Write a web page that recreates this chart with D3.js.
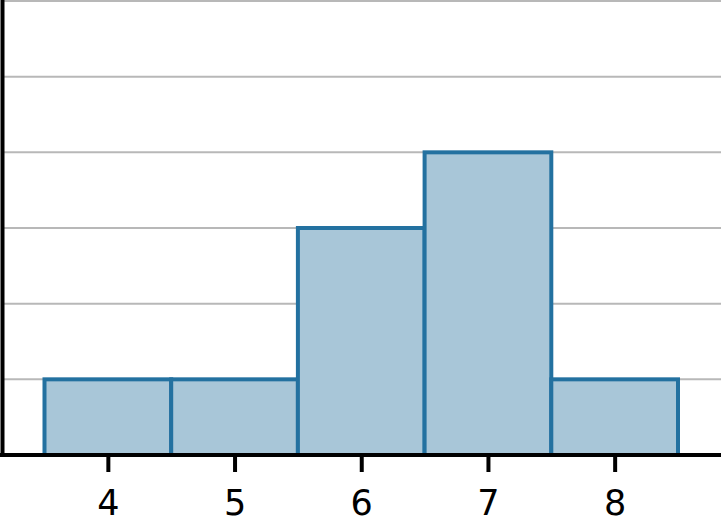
<!DOCTYPE html>
<html>
<head>
<meta charset="utf-8">
<script src="https://cdn.jsdelivr.net/npm/d3@7"></script>
<style>
  body { margin: 0; background: #fff; }
  svg { display: block; }
</style>
</head>
<body>
<svg></svg>
<script>
// histogram bins (centre value) and counts
const binValues = [4, 5, 6, 7, 8];
const binCounts = [1, 1, 3, 4, 1];
const yGridValues = [1, 2, 3, 4, 5, 6];
const xTickValues = [4, 5, 6, 7, 8];

const width = 721;
const height = 530;
const axisY = 455;
const axisX = 2.5;

const svg = d3.select("svg")
  .attr("width", width)
  .attr("height", height);

const scaleX = d3.scaleLinear()
  .domain([3.5, 8.5])
  .range([44.5, 678]);

const scaleY = d3.scaleLinear()
  .domain([0, 6])
  .range([axisY, 1]);

// horizontal grid lines
svg.append("g")
  .selectAll("line")
  .data(yGridValues)
  .enter()
  .append("line")
  .attr("x1", axisX)
  .attr("x2", width)
  .attr("y1", d => scaleY(d))
  .attr("y2", d => scaleY(d))
  .attr("stroke", "#b8b8b8")
  .attr("stroke-width", 2);

const bins = binValues.map((v, i) => ({ x: v, count: binCounts[i] }));

// bars
svg.append("g")
  .selectAll("rect")
  .data(bins)
  .enter()
  .append("rect")
  .attr("x", d => scaleX(d.x - 0.5))
  .attr("width", d => scaleX(d.x + 0.5) - scaleX(d.x - 0.5))
  .attr("y", d => scaleY(d.count))
  .attr("height", d => axisY - scaleY(d.count))
  .attr("fill", "#a8c6d8")
  .attr("stroke", "#2371a0")
  .attr("stroke-width", 4);

// x axis
const xAxis = d3.axisBottom(scaleX)
  .tickValues(xTickValues)
  .tickSize(17)
  .tickPadding(18)
  .tickFormat(d3.format("d"));

const gx = svg.append("g")
  .attr("transform", `translate(0, ${axisY})`)
  .call(xAxis);
gx.select(".domain").remove();
gx.selectAll(".tick line").attr("stroke", "#000").attr("stroke-width", 4);
gx.selectAll(".tick text")
  .attr("fill", "#000")
  .style("font-family", "'DejaVu Sans', sans-serif")
  .style("font-size", "35px");

gx.append("line")
  .attr("x1", 0)
  .attr("x2", width)
  .attr("y1", 0)
  .attr("y2", 0)
  .attr("stroke", "#000")
  .attr("stroke-width", 4);

// y axis line
svg.append("line")
  .attr("x1", axisX)
  .attr("x2", axisX)
  .attr("y1", 0)
  .attr("y2", axisY + 2)
  .attr("stroke", "#000")
  .attr("stroke-width", 4);
</script>
</body>
</html>
